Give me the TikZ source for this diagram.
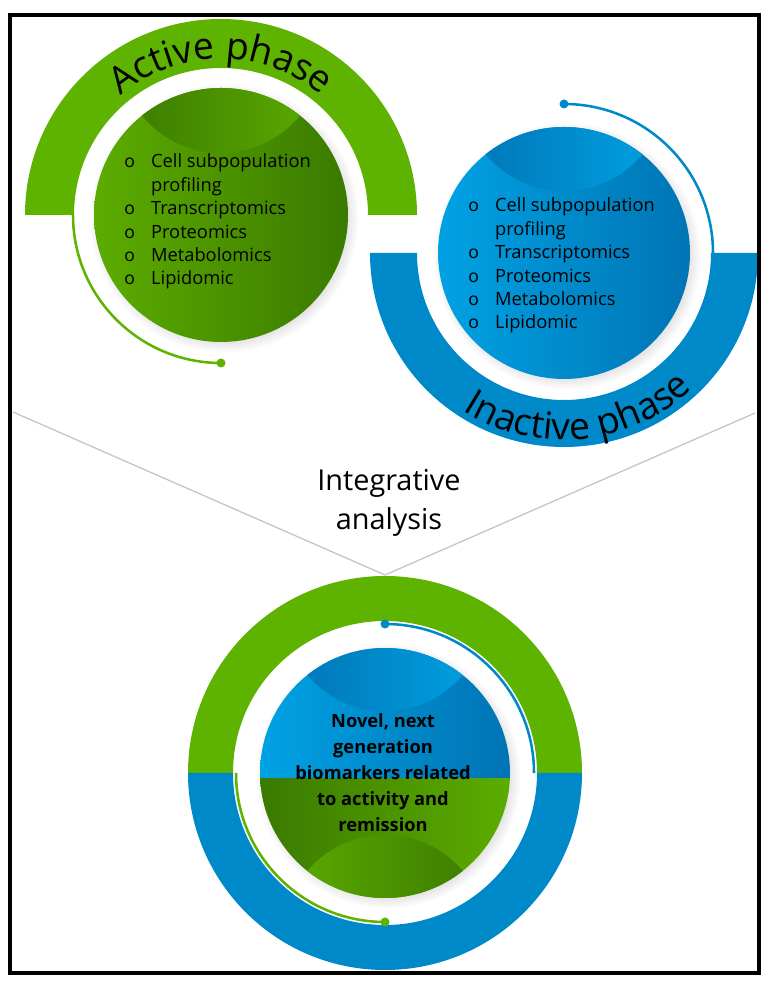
\documentclass[tikz,border=0pt]{standalone}
\usepackage{fontspec}
\setmainfont{Open Sans}
\usetikzlibrary{positioning,shadows,decorations.text}

\definecolor{ringgreen}{RGB}{94,178,0}
\definecolor{ringblue}{RGB}{0,137,201}
\definecolor{greenlite}{RGB}{92,172,0}
\definecolor{greendeep}{RGB}{58,122,0}
\definecolor{bluelite}{RGB}{0,162,228}
\definecolor{bluedeep}{RGB}{0,116,180}
\definecolor{vgrey}{RGB}{196,196,196}

\newcommand\arcfont{\fontsize{26.5}{31}\selectfont}
\newcommand\omicsbullet{\makebox[19.1pt][l]{\fontsize{12.5}{14}\selectfont o}}

\begin{document}
\begin{tikzpicture}[x=0.025cm,y=0.025cm,
        disc/.style={circular drop shadow={shadow xshift=2pt,shadow yshift=-2pt,shadow scale=1.06,opacity=.35}},
        trail/.style={draw=#1,line width=1.8pt},
        knob/.style={circle,fill=#1,inner sep=0pt,minimum size=6.4pt},
        omics/.style={anchor=base west,inner sep=0pt,text=black,font=\fontsize{13}{16.6}\selectfont},
        phase/.style={decorate,decoration={text along path,text align=center,text={|\arcfont|#1}}},
        vline/.style={draw=vgrey,line width=0.9pt}
    ]
    \useasboundingbox (0,0) rectangle (771,986);

    \coordinate (act) at (221,771);
    \coordinate (inact) at (564,733);
    \coordinate (res) at (385,213);

    % active phase
    \fill[ringgreen] (act) ++(0:196) arc (0:180:196) -- ++(49,0) arc (180:0:147) -- cycle;
    \path[phase=Active phase] (act) ++(180:156) arc (180:0:156);
    \begin{scope}[shift={(act)}]
        \path[disc] (0,0) circle (127);
        \shade[left color=greenlite,right color=greendeep] (0,0) circle (127);
        \clip (0,0) circle (127);
        \shade[left color=greendeep,right color=greenlite] (0,164) circle (102);
    \end{scope}
    \draw[trail=ringgreen] (act) ++(180:148) arc (180:270:148) node[knob=ringgreen] (actdot) {};
    \node[omics] (actlist) at (124,818) {\begin{tabular}[t]{@{}l@{}l@{}}
        \omicsbullet & Cell subpopulation\\
                     & profiling\\
        \omicsbullet & Transcriptomics\\
        \omicsbullet & Proteomics\\
        \omicsbullet & Metabolomics\\
        \omicsbullet & Lipidomic
    \end{tabular}};

    % inactive phase
    \fill[ringblue] (inact) ++(180:194) arc (180:360:194) -- ++(-47,0) arc (0:-180:147) -- cycle;
    \path[phase=Inactive phase] (inact) ++(185.4:187) arc (185.4:365.4:187);
    \begin{scope}[shift={(inact)}]
        \path[disc] (0,0) circle (126);
        \shade[left color=bluelite,right color=bluedeep] (0,0) circle (126);
        \clip (0,0) circle (126);
        \shade[left color=bluedeep,right color=bluelite] (0,164) circle (102);
    \end{scope}
    \draw[trail=ringblue] (inact) ++(0:149) arc (0:90:149) node[knob=ringblue] (inactdot) {};
    \node[omics] (inactlist) at (468,774) {\begin{tabular}[t]{@{}l@{}l@{}}
        \omicsbullet & Cell subpopulation\\
                     & profiling\\
        \omicsbullet & Transcriptomics\\
        \omicsbullet & Proteomics\\
        \omicsbullet & Metabolomics\\
        \omicsbullet & Lipidomic
    \end{tabular}};

    % integration
    \coordinate (vleft) at (13,574);
    \coordinate (vapex) at (385,411);
    \coordinate (vright) at (755,573);
    \draw[vline] (vleft) -- (vapex) -- (vright);
    \node[align=center,anchor=base,font=\fontsize{20.5}{28.3}\selectfont] (integ) at (389,456) {Integrative\\analysis};

    \fill[ringgreen] (res) ++(0:197) arc (0:180:197) -- ++(45,0) arc (180:0:152) -- cycle;
    \fill[ringblue] (res) ++(180:197) arc (180:360:197) -- ++(-45,0) arc (0:-180:152) -- cycle;
    \begin{scope}[shift={(res)}]
        \path[disc] (0,0) circle (125);
        \clip (0,0) circle (125);
        \shade[left color=bluelite,right color=bluedeep] (-125,-6) rectangle (125,125);
        \shade[left color=greendeep,right color=greenlite] (-125,-125) rectangle (125,-6);
        \shade[left color=bluedeep,right color=bluelite] (0,164) circle (102);
        \shade[left color=greenlite,right color=greendeep] (0,-164) circle (102);
    \end{scope}
    \draw[trail=ringblue] (res) ++(0:149) arc (0:90:149) node[knob=ringblue] (resbdot) {};
    \draw[trail=ringgreen] (res) ++(180:149) arc (180:270:149) node[knob=ringgreen] (resgdot) {};
    \node[align=center,anchor=base,font=\bfseries\fontsize{13}{18.6}\selectfont] (biomk) at (383,154)
        {Novel, next\\generation\\biomarkers related\\to activity and\\remission};

    \draw[line width=2.2pt] (10,13) rectangle (759,971);
\end{tikzpicture}
\end{document}
